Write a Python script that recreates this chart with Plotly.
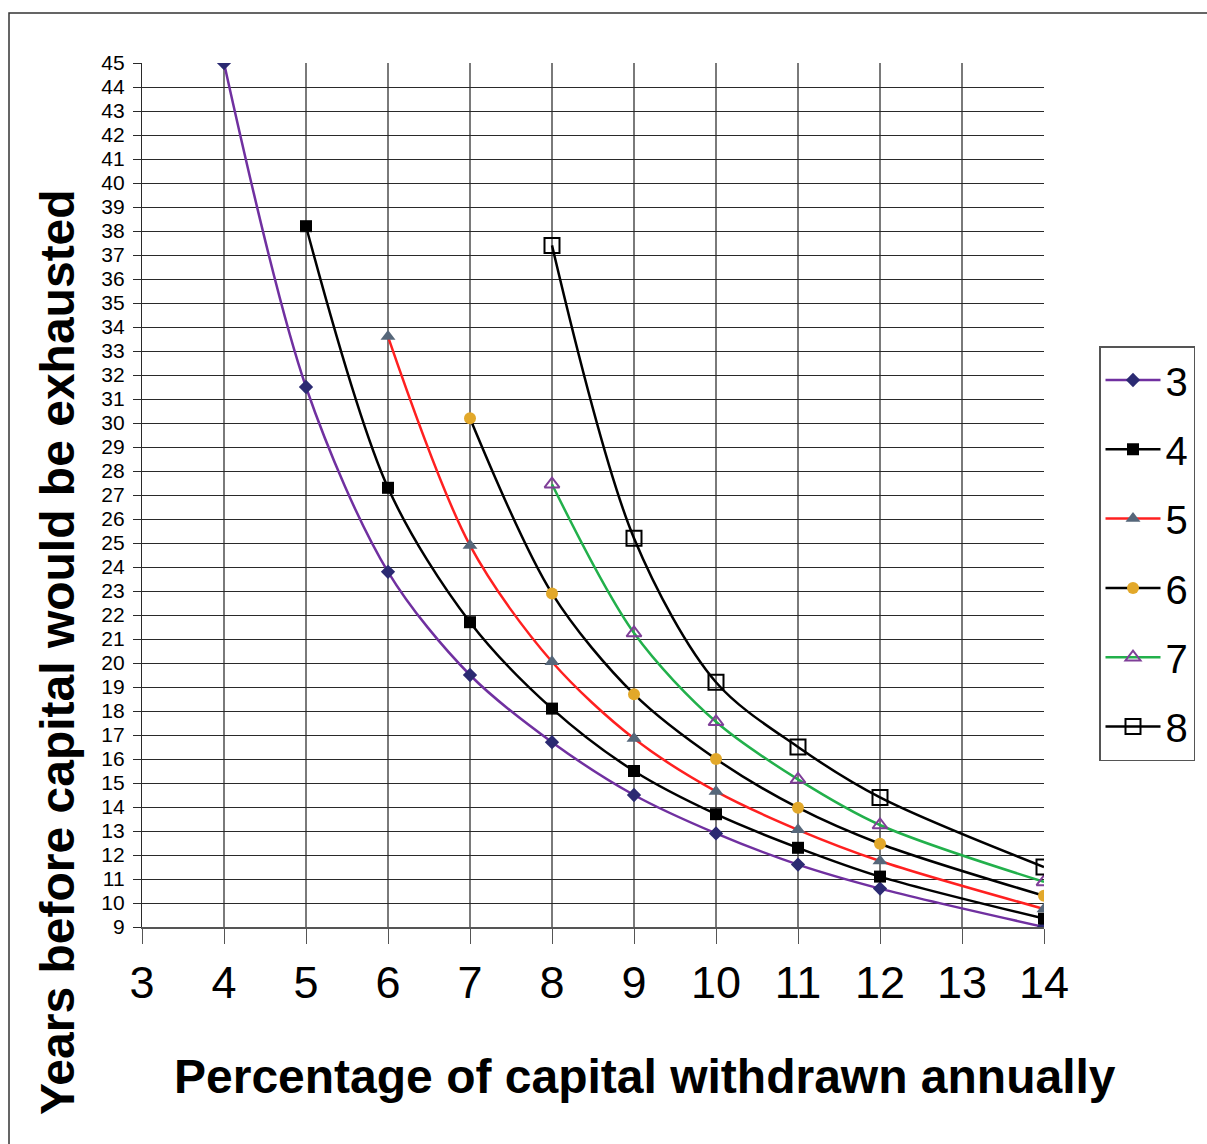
import plotly.graph_objects as go

# ---- data ----
x3 = [4, 5, 6, 7, 8, 9, 10, 11, 12, 14]
y3 = [45.0, 31.5, 23.8, 19.5, 16.7, 14.5, 12.9, 11.6, 10.6, 9.0]

x4 = [5, 6, 7, 8, 9, 10, 11, 12, 14]
y4 = [38.2, 27.3, 21.7, 18.1, 15.5, 13.7, 12.3, 11.1, 9.35]

x5 = [6, 7, 8, 9, 10, 11, 12, 14]
y5 = [33.6, 24.9, 20.05, 16.85, 14.65, 13.05, 11.75, 9.75]

x6 = [7, 8, 9, 10, 11, 12, 14]
y6 = [30.2, 22.9, 18.7, 16.0, 13.97, 12.47, 10.3]

x7 = [8, 9, 10, 11, 12, 14]
y7 = [27.45, 21.25, 17.55, 15.15, 13.25, 10.88]

x8 = [8, 9, 10, 11, 12, 14]
y8 = [37.4, 25.2, 19.2, 16.5, 14.4, 11.5]

names = ["3", "4", "5", "6", "7", "8"]
x_ticks = list(range(3, 15))
y_ticks = list(range(9, 46))

FONT = "Liberation Sans, Arial, sans-serif"

series = [
    (x3, y3, names[0], "#7030A0", dict(symbol="diamond", size=11, color="#2B2A72")),
    (x4, y4, names[1], "#000000", dict(symbol="square", size=12, color="#000000")),
    (x5, y5, names[2], "#FF2020", dict(symbol="triangle-up", size=13, color="#56677A")),
    (x6, y6, names[3], "#000000", dict(symbol="circle", size=12, color="#E2A82A")),
    (x7, y7, names[4], "#22B04B", dict(symbol="triangle-up-open", size=13, color="#7F3F98",
                                       line=dict(width=2, color="#7F3F98"))),
    (x8, y8, names[5], "#000000", dict(symbol="square-open", size=15, color="#000000",
                                       line=dict(width=2, color="#000000"))),
]

fig = go.Figure()
for i, (xs, ys, nm, lc, mk) in enumerate(series):
    fig.add_trace(go.Scatter(
        x=xs, y=ys, name=nm, mode="lines+markers",
        line=dict(color=lc, width=2.5, shape="spline", smoothing=0.9),
        marker=mk, legendgroup=nm,
    ))

L, R, T, B = 142, 163, 63, 217
W, H = 1207, 1144
pw, ph = W - L - R, H - T - B

def px(xp):
    return (xp - L) / pw

def py(yp):
    return (H - B - yp) / ph

fig.update_layout(
    width=W, height=H,
    margin=dict(l=L, r=R, t=T, b=B),
    paper_bgcolor="white", plot_bgcolor="white",
    font=dict(family=FONT, color="black"),
    showlegend=True,
    legend=dict(
        x=px(1099), y=py(346), xanchor="left", yanchor="top",
        font=dict(size=40, family=FONT, color="black"),
        bordercolor="#555555", borderwidth=1.5, bgcolor="white",
        itemwidth=55, tracegroupgap=14.3, traceorder="grouped",
    ),
    xaxis=dict(
        range=[3, 14], tickmode="array", tickvals=x_ticks,
        ticktext=[str(v) for v in x_ticks],
        showgrid=True, gridcolor="#7a7a7a", gridwidth=1.5,
        showline=True, linecolor="#555555", linewidth=1.5,
        ticks="outside", ticklen=15, tickcolor="#555555", tickwidth=1.2,
        tickfont=dict(size=45, family=FONT), ticklabelstandoff=0,
        zeroline=False,
    ),
    yaxis=dict(
        range=[9, 45], tickmode="array", tickvals=y_ticks,
        ticktext=[str(v) for v in y_ticks],
        showgrid=True, gridcolor="#2a2a2a", gridwidth=1.3,
        showline=True, linecolor="#2a2a2a", linewidth=1.3,
        ticks="outside", ticklen=8, tickcolor="#2a2a2a", tickwidth=1.2,
        tickfont=dict(size=21, family=FONT), ticklabelstandoff=4,
        zeroline=False,
    ),
    annotations=[
        dict(text="<b>Percentage of capital withdrawn annually</b>",
             xref="paper", yref="paper", x=px(644.5), y=py(1076),
             xanchor="center", yanchor="middle", showarrow=False,
             font=dict(size=48, family=FONT, color="black")),
        dict(text="<b>Years before capital would be exhausted</b>",
             xref="paper", yref="paper", x=px(57), y=py(652),
             xanchor="center", yanchor="middle", showarrow=False, textangle=-90,
             font=dict(size=48, family=FONT, color="black")),
    ],
    shapes=[
        dict(type="rect", xref="paper", yref="paper",
             x0=px(9), x1=px(1230), y0=py(13), y1=py(1190),
             line=dict(color="#333333", width=1.5), fillcolor="rgba(0,0,0,0)",
             layer="below"),
    ],
)

fig.write_html("out.html", config={"displayModeBar": False},
               post_script="document.body.style.margin='0px';document.body.style.padding='0px';")
